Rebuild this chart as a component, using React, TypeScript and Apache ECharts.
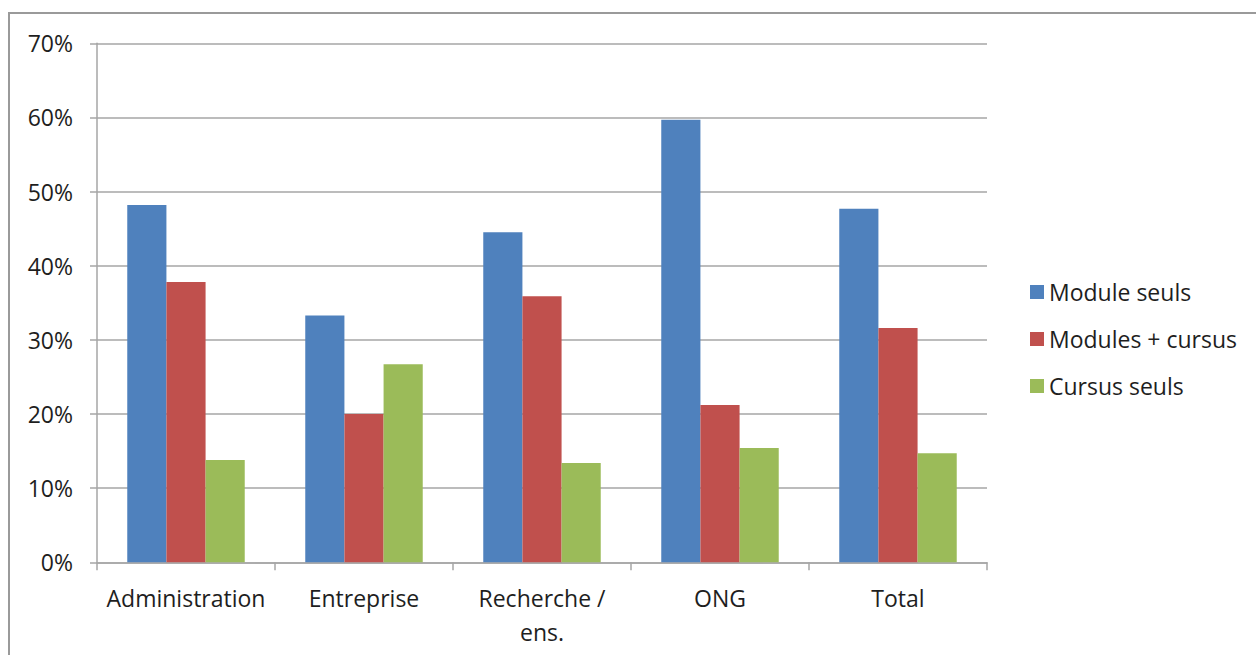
import React, { useEffect, useRef } from "react";
import * as echarts from "echarts";

const categories = ["Administration", "Entreprise", "Recherche /\nens.", "ONG", "Total"];
const seriesNames = ["Module seuls", "Modules + cursus", "Cursus seuls"];
const moduleSeuls = [48.2, 33.3, 44.5, 59.7, 47.7];
const modulesCursus = [37.8, 20.0, 35.9, 21.2, 31.6];
const cursusSeuls = [13.8, 26.7, 13.4, 15.4, 14.7];
const colors = ["#4F81BD", "#C0504D", "#9BBB59"];

const FONT = "'Open Sans', 'Liberation Sans', sans-serif";
const GRAY = "#a6a6a6";
const TEXT = "#1e1e1e";

export default function App() {
  const ref = useRef<HTMLDivElement>(null);

  useEffect(() => {
    if (!ref.current) return;
    const chart = echarts.init(ref.current, null, { renderer: "svg" });
    const values = [moduleSeuls, modulesCursus, cursusSeuls];
    chart.setOption({
      animation: false,
      backgroundColor: "#ffffff",
      textStyle: { fontFamily: FONT },
      graphic: [
        {
          type: "rect",
          shape: { x: 9, y: 13, width: 1300, height: 700 },
          style: { fill: "none", stroke: "#9a9a9a", lineWidth: 2 },
          silent: true,
        },
      ],
      grid: { left: 97, right: 269, top: 43.3, bottom: 92.7, containLabel: false },
      legend: {
        orient: "vertical",
        left: 1025,
        top: 274,
        itemWidth: 14,
        itemHeight: 14,
        itemGap: 21,
        icon: "rect",
        data: seriesNames,
        textStyle: { fontFamily: FONT, fontSize: 23, color: TEXT, lineHeight: 26 },
      },
      xAxis: {
        type: "category",
        data: categories,
        axisLine: { show: true, lineStyle: { color: GRAY, width: 1.5 } },
        axisTick: { show: true, length: 8, alignWithLabel: false, lineStyle: { color: GRAY, width: 1.5 } },
        axisLabel: {
          interval: 0,
          margin: 19,
          fontFamily: FONT,
          fontSize: 23,
          lineHeight: 34,
          color: TEXT,
        },
      },
      yAxis: {
        type: "value",
        min: 0,
        max: 70,
        interval: 10,
        axisLine: { show: true, lineStyle: { color: GRAY, width: 1.5 } },
        axisTick: { show: true, length: 7, lineStyle: { color: GRAY, width: 1.5 } },
        splitLine: { show: true, lineStyle: { color: GRAY, width: 1.5 } },
        axisLabel: {
          margin: 24,
          fontFamily: FONT,
          fontSize: 23,
          color: TEXT,
          formatter: (v: number) => `${v}%`,
        },
      },
      series: seriesNames.map((name, i) => ({
        name,
        type: "bar",
        data: values[i],
        barGap: "0%",
        barCategoryGap: "34%",
        itemStyle: { color: colors[i] },
      })),
    });
    return () => chart.dispose();
  }, []);

  return (
    <div
      ref={ref}
      style={{ position: "absolute", left: 0, top: 0, width: 1256, height: 655 }}
    />
  );
}
